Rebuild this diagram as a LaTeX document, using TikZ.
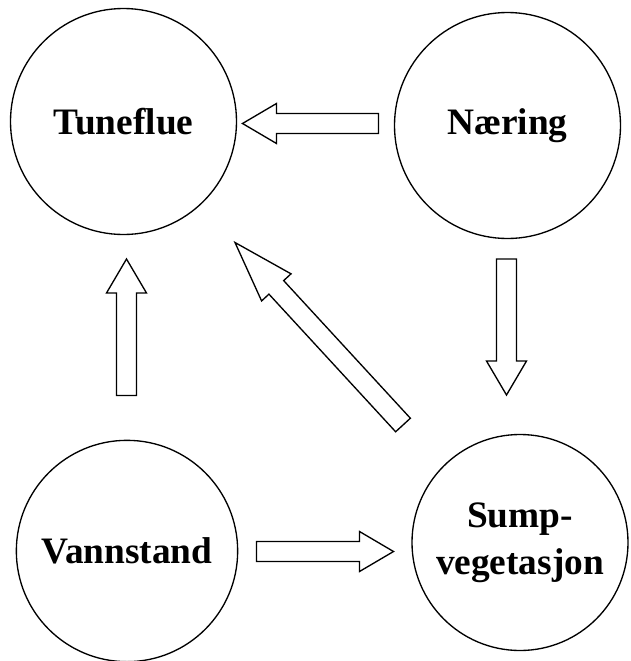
\documentclass[tikz,border=0pt]{standalone}
\usepackage{fontspec}
\setmainfont{Liberation Serif}
\usepackage{tikz}
\usetikzlibrary{calc}

% hollow block arrow from #1 (tail) to #2 (tip), head length #3
\newcommand{\blockarrow}[3]{%
    \coordinate (#1-base) at ($(#2)!#3!(#1)$);
    \draw[blockline] ($(#1)!7.5pt!90:(#2)$) -- ($(#1-base)!7.5pt!90:(#2)$)
        -- ($(#1-base)!15pt!90:(#2)$) -- (#2) -- ($(#1-base)!15pt!-90:(#2)$)
        -- ($(#1-base)!7.5pt!-90:(#2)$) -- ($(#1)!7.5pt!-90:(#2)$) -- cycle;
}

\begin{document}
\begin{tikzpicture}[x=0.75pt, y=-0.75pt,
    factor/.style={draw, circle, line width=1pt, minimum size=169.5pt, inner sep=0pt,
        align=center, font=\bfseries\fontsize{28}{35}\selectfont},
    blockline/.style={line width=1pt, line join=miter}]
    \useasboundingbox (0,0) rectangle (631,661);

    % Circles
    \node[factor] (tune) at (123.5,121.5) {Tuneflue};
    \node[factor] (naering) at (507.5,125.5) {Næring};
    \node[factor, minimum size=166pt] (vann) at (127,551) {Vannstand};
    \node[factor, minimum size=162pt] (sump) at (520,542.5) {Sump-\\vegetasjon};

    % Arrow ends
    \coordinate (n2t) at (378.5,123.5);  \coordinate (n2t-tip) at (242.5,123.5);
    \coordinate (n2s) at (506.5,259);    \coordinate (n2s-tip) at (506.5,395);
    \coordinate (v2t) at (126.5,395.5);  \coordinate (v2t-tip) at (126.5,259);
    \coordinate (v2s) at (256.5,551.5);  \coordinate (v2s-tip) at (393.5,551.5);
    \coordinate (s2t) at (403,425);      \coordinate (s2t-tip) at (235,242.5);

    % Arrows
    \blockarrow{n2t}{n2t-tip}{25.5pt}
    \blockarrow{n2s}{n2s-tip}{25.5pt}
    \blockarrow{v2t}{v2t-tip}{25.5pt}
    \blockarrow{v2s}{v2s-tip}{25.5pt}
    \blockarrow{s2t}{s2t-tip}{45.75pt}
\end{tikzpicture}
\end{document}
